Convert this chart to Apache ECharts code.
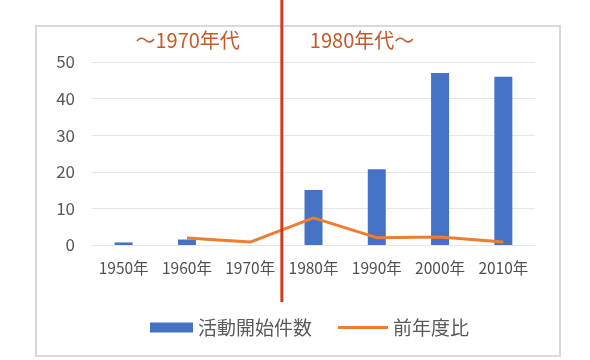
<!DOCTYPE html>
<html><head><meta charset="utf-8">
<script src="https://cdn.jsdelivr.net/npm/echarts@6/dist/echarts.min.js"></script>
<style>html,body{margin:0;padding:0;background:#fff}#c{width:590px;height:360px}</style>
</head><body><div id="c"></div>
<script>
const categories = ['1950年','1960年','1970年','1980年','1990年','2000年','2010年'];
const startCounts = [0.7, 1.5, 0, 15, 20.7, 47, 46];
const yoyRatio = [null, 1.9, 0.8, 7.4, 2.0, 2.2, 0.8];
const yTicks = [0, 10, 20, 30, 40, 50];
const eraLabels = ['～1970年代', '1980年代～'];
const seriesNames = ['活動開始件数', '前年度比'];

const chart = echarts.init(document.getElementById('c'));
const font = '"Noto Sans CJK JP", sans-serif';
const legendText = {fontSize: 19, color: '#595959', fontFamily: font};
chart.setOption({
  animation: false,
  textStyle: {fontFamily: font},
  grid: {left: 92, right: 55, top: 62, bottom: 115},
  legend: [
    {left: 145, top: 313, itemWidth: 43, itemHeight: 10, itemGap: 2, textStyle: legendText,
     data: [{name: seriesNames[0], icon: 'rect'}]},
    {left: 333, top: 313, itemWidth: 50, itemHeight: 3, textStyle: legendText,
     data: [{name: seriesNames[1], icon: 'rect'}]}
  ],
  xAxis: {
    type: 'category', data: categories,
    axisLine: {show: false}, axisTick: {show: false},
    axisLabel: {fontSize: 15.5, color: '#505050', margin: 15, interval: 0, hideOverlap: false}
  },
  yAxis: {
    type: 'value', min: yTicks[0], max: yTicks[yTicks.length-1], interval: 10,
    axisLabel: {fontSize: 17, color: '#595959', margin: 17},
    splitLine: {lineStyle: {color: '#e6e6e6', width: 1}}
  },
  series: [
    {name: seriesNames[0], type: 'bar', data: startCounts, barWidth: 18,
     itemStyle: {color: '#4472C4'}},
    {name: seriesNames[1], type: 'line', data: yoyRatio, symbol: 'none',
     lineStyle: {color: '#ED7D31', width: 3}, itemStyle: {color: '#ED7D31'}}
  ]
});
const p1 = chart.convertToPixel({xAxisIndex: 0}, categories[2]);
const p2 = chart.convertToPixel({xAxisIndex: 0}, categories[3]);
const mx = (p1 + p2) / 2;
chart.setOption({
  graphic: [
    {type: 'rect', shape: {x: 36, y: 26, width: 524, height: 330},
     style: {fill: 'none', stroke: '#d9d9d9', lineWidth: 2}, z: 0},
    {type: 'rect', shape: {x: 110, y: 27, width: 150, height: 30}, style: {fill: '#fff'}, z: 1},
    {type: 'rect', shape: {x: 300, y: 27, width: 140, height: 30}, style: {fill: '#fff'}, z: 1},
    {type: 'text', x: mx - 42, y: 40, style: {text: eraLabels[0], fill: '#C55A2B', fontSize: 20, fontFamily: font, align: 'right', verticalAlign: 'middle'}, z: 5},
    {type: 'text', x: mx + 28, y: 40, style: {text: eraLabels[1], fill: '#C55A2B', fontSize: 20, fontFamily: font, align: 'left', verticalAlign: 'middle'}, z: 5},
    {type: 'line', shape: {x1: mx, y1: 0, x2: mx, y2: 302}, style: {stroke: '#D03A20', lineWidth: 3}, z: 10}
  ]
});
</script></body></html>
